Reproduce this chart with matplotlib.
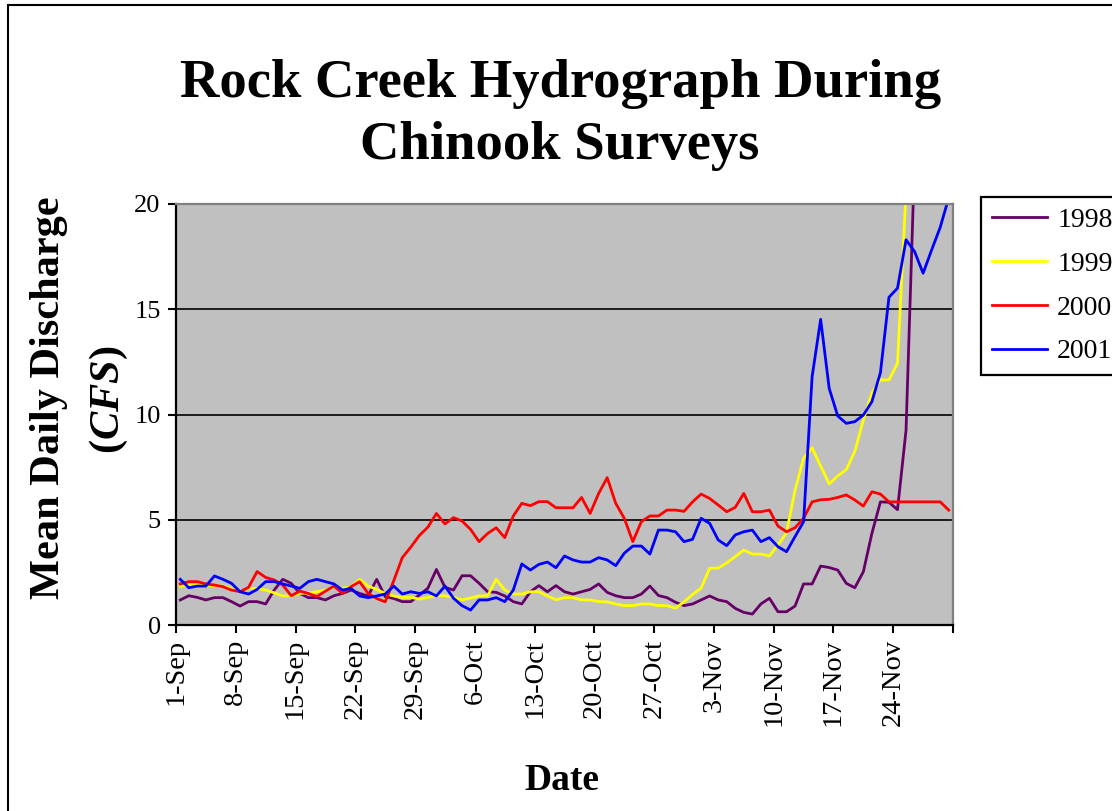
import matplotlib
matplotlib.use("Agg")
import matplotlib.pyplot as plt
from matplotlib.patches import Rectangle
import numpy as np

# ---- data: mean daily discharge (cfs), one value per day, 1 Sep .. 30 Nov ----
tick_labels = ["1-Sep", "8-Sep", "15-Sep", "22-Sep", "29-Sep", "6-Oct", "13-Oct",
               "20-Oct", "27-Oct", "3-Nov", "10-Nov", "17-Nov", "24-Nov"]
years = ["1998", "1999", "2000", "2001"]

q1998 = [1.19, 1.39, 1.31, 1.19, 1.30, 1.30, 1.11, 0.90, 1.11, 1.11,
         1.00, 1.66, 2.17, 1.98, 1.50, 1.30, 1.30, 1.19, 1.39, 1.50,
         1.66, 1.50, 1.38, 2.17, 1.35, 1.26, 1.11, 1.11, 1.42, 1.75,
         2.64, 1.79, 1.66, 2.34, 2.34, 1.98, 1.58, 1.55, 1.38, 1.11,
         1.00, 1.58, 1.87, 1.58, 1.87, 1.58, 1.47, 1.58, 1.69, 1.95,
         1.55, 1.39, 1.30, 1.30, 1.47, 1.85, 1.40, 1.30, 1.08, 0.92,
         1.00, 1.19, 1.38, 1.19, 1.11, 0.79, 0.60, 0.52, 1.00, 1.27,
         0.63, 0.63, 0.90, 1.95, 1.95, 2.80, 2.73, 2.61, 1.98, 1.77,
         2.53, 4.35, 5.85, 5.83, 5.48, 9.25, 22.1, 30.0, 36.0, 40.0, 42.0]

q1999 = [1.85, 1.88, 1.88, 1.88, 1.88, 1.85, 1.74, 1.61, 1.74, 1.74,
         1.66, 1.53, 1.38, 1.38, 1.50, 1.53, 1.58, 1.66, 1.79, 1.74,
         1.82, 2.17, 1.85, 1.69, 1.50, 1.38, 1.31, 1.31, 1.23, 1.31,
         1.39, 1.39, 1.31, 1.19, 1.28, 1.38, 1.39, 2.17, 1.66, 1.47,
         1.47, 1.58, 1.58, 1.38, 1.20, 1.30, 1.30, 1.19, 1.19, 1.11,
         1.10, 1.00, 0.92, 0.92, 1.00, 1.00, 0.92, 0.92, 0.80, 1.10,
         1.45, 1.75, 2.70, 2.70, 2.95, 3.25, 3.56, 3.37, 3.37, 3.28,
         3.80, 4.38, 6.40, 7.92, 8.42, 7.55, 6.70, 7.08, 7.38, 8.24,
         9.74, 11.02, 11.64, 11.64, 12.43, 20.6, 27.0, 31.0, 29.0, 27.0, 26.0]

q2000 = [1.95, 2.06, 2.06, 1.95, 1.90, 1.82, 1.66, 1.58, 1.79, 2.54,
         2.26, 2.14, 1.90, 1.39, 1.61, 1.50, 1.35, 1.61, 1.85, 1.50,
         1.82, 2.06, 1.50, 1.26, 1.10, 2.10, 3.20, 3.70, 4.25, 4.65,
         5.30, 4.80, 5.10, 4.94, 4.54, 3.96, 4.35, 4.62, 4.15, 5.18,
         5.78, 5.67, 5.86, 5.86, 5.57, 5.57, 5.57, 6.06, 5.30, 6.25,
         7.00, 5.78, 5.07, 3.96, 4.91, 5.18, 5.18, 5.46, 5.46, 5.40,
         5.85, 6.22, 6.01, 5.70, 5.38, 5.59, 6.25, 5.38, 5.38, 5.46,
         4.70, 4.43, 4.62, 5.07, 5.85, 5.95, 5.97, 6.06, 6.18, 5.94,
         5.65, 6.33, 6.22, 5.85, 5.85, 5.85, 5.85, 5.85, 5.85, 5.85, 5.46]

q2001 = [2.17, 1.77, 1.85, 1.85, 2.33, 2.17, 1.98, 1.58, 1.47, 1.69,
         2.06, 2.06, 1.95, 1.85, 1.74, 2.06, 2.17, 2.06, 1.95, 1.66,
         1.74, 1.38, 1.30, 1.38, 1.47, 1.85, 1.47, 1.58, 1.50, 1.58,
         1.38, 1.85, 1.27, 0.92, 0.71, 1.19, 1.19, 1.30, 1.11, 1.66,
         2.90, 2.61, 2.88, 2.99, 2.72, 3.28, 3.09, 2.99, 2.99, 3.20,
         3.09, 2.82, 3.41, 3.75, 3.75, 3.37, 4.51, 4.51, 4.43, 3.96,
         4.07, 5.07, 4.83, 4.04, 3.77, 4.28, 4.43, 4.51, 3.96, 4.15,
         3.72, 3.48, 4.20, 4.91, 11.80, 14.52, 11.24, 9.93, 9.58, 9.66,
         9.97, 10.61, 11.99, 15.57, 16.00, 18.30, 17.74, 16.71, 17.82, 18.89, 20.30]

series = [q1998, q1999, q2000, q2001]
colors = ["#660066", "#FFFF00", "#FF0000", "#0000FF"]

# ---- styling ----
plt.rcParams["font.family"] = ["Liberation Serif", "DejaVu Serif"]
plt.rcParams["mathtext.fontset"] = "custom"
plt.rcParams["mathtext.rm"] = "Liberation Serif:bold"
plt.rcParams["mathtext.it"] = "Liberation Serif:italic:bold"

W, H = 1112, 811
fig = plt.figure(figsize=(W / 100, H / 100), dpi=100)
fig.patch.set_facecolor("white")


def fx(px):
    return px / W


def fy(py):
    return 1 - py / H


# chart frame
fig.patches.append(Rectangle((fx(8), fy(1200)), 2.0, fy(5) - fy(1200),
                             transform=fig.transFigure, fill=False,
                             edgecolor="black", linewidth=1.5))

ax = fig.add_axes([fx(176), fy(625), fx(953) - fx(176), fy(204) - fy(625)])
ax.set_facecolor("#C0C0C0")

n_days = len(q1998)
days = np.arange(n_days) + 0.5
for q, c, lab in zip(series, colors, years):
    ax.plot(days, q, color=c, lw=2.0, label=lab)

ax.set_xlim(0, n_days)
ax.set_ylim(0, 20)
ax.set_yticks([0, 5, 10, 15, 20])
ax.yaxis.grid(True, color="black", linewidth=1.2)
ax.set_axisbelow(True)

xt = np.arange(0, n_days + 1, 7)
ax.set_xticks(xt)
ax.set_xticklabels(tick_labels + [""] * (len(xt) - len(tick_labels)), rotation=90)

for side in ("left", "bottom"):
    ax.spines[side].set_color("black")
    ax.spines[side].set_linewidth(1.6)
for side in ("top", "right"):
    ax.spines[side].set_color("#808080")
    ax.spines[side].set_linewidth(1.6)

ax.tick_params(axis="both", direction="out", length=6, width=1.5,
               color="black", pad=4)
ax.tick_params(axis="x", labelsize=20.5)
ax.tick_params(axis="y", labelsize=19, pad=5)

# titles and axis labels
fig.text(fx(561), fy(97), "Rock Creek Hydrograph During", ha="center",
         va="baseline", fontsize=39.3, fontweight="bold")
fig.text(fx(560), fy(159), "Chinook Surveys", ha="center",
         va="baseline", fontsize=39.3, fontweight="bold")
fig.text(fx(49), fy(398), "Mean Daily Discharge", rotation=90, ha="center",
         va="center", fontsize=30.5, fontweight="bold")
fig.text(fx(109), fy(400), r"$(CFS)$", rotation=90, ha="center",
         va="center", fontsize=30.5)
fig.text(fx(562), fy(780), "Date", ha="center", va="center",
         fontsize=27, fontweight="bold")

leg = fig.legend(loc="upper left", bbox_to_anchor=(fx(981), fy(197)),
                 bbox_transform=fig.transFigure, borderaxespad=0,
                 fontsize=20, frameon=True, fancybox=False, shadow=False,
                 handlelength=2.0, handletextpad=0.36, labelspacing=0.66,
                 borderpad=0.38)
leg.get_frame().set_edgecolor("black")
leg.get_frame().set_linewidth(1.6)
leg.get_frame().set_facecolor("white")
leg.get_frame().set_alpha(1)

fig.savefig("out.png", dpi=100)
